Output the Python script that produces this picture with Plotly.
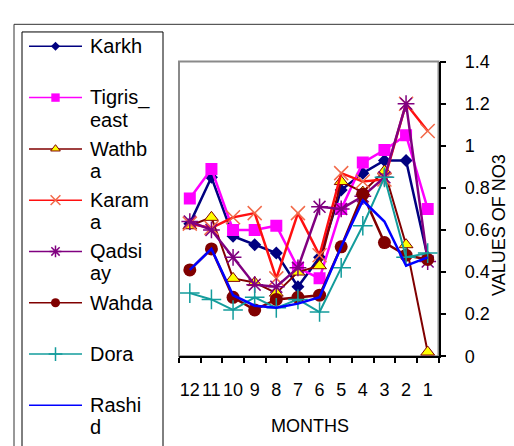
import plotly.graph_objects as go

# ---------------- data ----------------
months = ["12", "11", "10", "9", "8", "7", "6", "5", "4", "3", "2", "1"]
karkh = [0.63, 0.85, 0.57, 0.53, 0.49, 0.33, 0.47, 0.79, 0.87, 0.93, 0.93, 0.47]
tigris_east = [0.75, 0.89, 0.60, 0.60, 0.62, 0.42, 0.37, 0.70, 0.92, 0.98, 1.05, 0.70]
wathba = [0.62, 0.66, 0.37, 0.35, 0.30, 0.40, 0.43, 0.83, 0.78, 0.88, 0.53, 0.02]
karama = [0.63, 0.61, 0.66, 0.68, 0.37, 0.68, 0.48, 0.87, 0.83, 0.84, 1.20, 1.07]
qadsiay = [0.64, 0.60, 0.47, 0.34, 0.33, 0.42, 0.71, 0.70, 0.76, 0.85, 1.20, 0.45]
wahda = [0.41, 0.51, 0.28, 0.22, 0.27, 0.28, 0.29, 0.52, 0.77, 0.54, 0.48, 0.46]
dora = [0.30, 0.27, 0.22, 0.28, 0.23, 0.27, 0.21, 0.42, 0.62, 0.85, 0.47, 0.49]
rashid = [0.41, 0.51, 0.29, 0.24, 0.23, 0.25, 0.28, 0.52, 0.74, 0.64, 0.43, 0.47]

series_names = ["Karkh", "Tigris_east", "Wathba", "Karama", "Qadsiay", "Wahda", "Dora", "Rashid"]
series_values = [karkh, tigris_east, wathba, karama, qadsiay, wahda, dora, rashid]
legend_lines = [["Karkh"], ["Tigris_", "east"], ["Wathb", "a"], ["Karam", "a"],
                ["Qadsi", "ay"], ["Wahda"], ["Dora"], ["Rashi", "d"]]
y_title = "VALUES OF NO3"
x_title = "MONTHS"

# ---------------- styles ----------------
styles = [
    dict(line=dict(color="#000080", width=2.5),
         marker=dict(symbol="diamond", size=10, color="#000080")),
    dict(line=dict(color="#FF00FF", width=2.5),
         marker=dict(symbol="square", size=12, color="#FF00FF")),
    dict(line=dict(color="#800000", width=2),
         marker=dict(symbol="triangle-up", size=12, color="#FFFF00", line=dict(color="#800000", width=1))),
    dict(line=dict(color="#FF1010", width=2.5),
         marker=dict(symbol="x-thin-open", size=14, color="#F26A4A", line=dict(color="#F26A4A", width=1.5))),
    dict(line=dict(color="#800080", width=2.5),
         marker=dict(symbol="asterisk-open", size=14, color="#800080", line=dict(color="#800080", width=1.5))),
    dict(line=dict(color="#800000", width=2.5),
         marker=dict(symbol="circle", size=13, color="#800000")),
    dict(line=dict(color="#139C9C", width=2),
         marker=dict(symbol="cross-thin-open", size=14, color="#139C9C", line=dict(color="#139C9C", width=1.5))),
    dict(line=dict(color="#0000FF", width=2.5), marker=None),
]
legend_marker_scale = 0.7

W, H = 514, 446
FONT = "Liberation Sans, Arial, sans-serif"
# plot box in pixels
PL, PR, PT, PB = 179, 438.5, 54, 362.5
# legend geometry in pixels
ROW0, ROWSTEP, LINESTEP = 38, 53.7, 23


def px_x(p):
    return p / W


def px_y(p):
    return 1 - p / H


fig = go.Figure()

for name, vals, st in zip(series_names, series_values, styles):
    kw = dict(line=st["line"])
    if st["marker"] is not None:
        kw["marker"] = st["marker"]
        kw["mode"] = "lines+markers"
    else:
        kw["mode"] = "lines"
    fig.add_trace(go.Scatter(x=months, y=vals, name=name, showlegend=False,
                             xaxis="x", yaxis="y", **kw))

# legend glyphs drawn on an overlay axis (row index -> vertical position)
for i, st in enumerate(styles):
    lw = dict(color=st["line"]["color"], width=1.5)
    fig.add_trace(go.Scatter(x=[0, 1], y=[i, i], mode="lines", line=lw, showlegend=False,
                             hoverinfo="skip", xaxis="x2", yaxis="y2"))
    if st["marker"] is not None:
        m = dict(st["marker"])
        m["size"] = m["size"] * legend_marker_scale
        fig.add_trace(go.Scatter(x=[0.5], y=[i], mode="markers", marker=m, showlegend=False,
                                 hoverinfo="skip", xaxis="x2", yaxis="y2", cliponaxis=False))

annotations = []
for i, lines in enumerate(legend_lines):
    for j, txt in enumerate(lines):
        annotations.append(dict(text=txt, xref="paper", yref="y2", x=px_x(89), y=i + j * LINESTEP / ROWSTEP,
                                xanchor="left", yanchor="middle", showarrow=False, borderpad=0,
                                font=dict(family=FONT, size=20, color="black")))
annotations.append(dict(text=y_title, xref="paper", yref="paper", x=px_x(499), y=px_y(225),
                        textangle=-90, showarrow=False, xanchor="center", yanchor="middle",
                        font=dict(family=FONT, size=18, color="black")))
annotations.append(dict(text=x_title, xref="paper", yref="paper", x=px_x(310), y=px_y(436),
                        showarrow=False, xanchor="center", yanchor="middle",
                        font=dict(family=FONT, size=18, color="black")))

shapes = [
    # outer chart border
    dict(type="rect", xref="paper", yref="paper", x0=px_x(14), x1=1.05, y0=px_y(15), y1=-0.05,
         line=dict(color="#333333", width=1), layer="below"),
    # legend box
    dict(type="rect", xref="paper", yref="paper", x0=px_x(22), x1=px_x(163), y0=px_y(23), y1=-0.05,
         line=dict(color="black", width=1), layer="below"),
    # plot-area frame
    dict(type="rect", xref="x domain", yref="y domain", x0=0, x1=1, y0=0, y1=1,
         line=dict(color="#8A8A8A", width=2), layer="below"),
]

fig.update_layout(
    width=W, height=H,
    margin=dict(l=0, r=0, t=0, b=0),
    paper_bgcolor="white", plot_bgcolor="white",
    font=dict(family=FONT, size=18, color="black"),
    showlegend=False,
    xaxis=dict(domain=[px_x(PL), px_x(PR)], type="category", categoryorder="array",
               categoryarray=months, range=[-0.5, 11.5], tickson="boundaries",
               tickmode="array", tickvals=months, ticktext=months, tickangle=0,
               ticks="outside", ticklen=5, tickcolor="black", tickwidth=1.5,
               showline=True, linecolor="black", linewidth=1.5, showgrid=False,
               zeroline=False, ticklabelstandoff=16, anchor="y",
               tickfont=dict(family=FONT, size=18, color="black")),
    yaxis=dict(domain=[px_y(PB), px_y(PT)], side="right", range=[0, 1.4], dtick=0.2, tick0=0,
               ticks="outside", ticklen=6, tickcolor="black", tickwidth=1.5,
               showline=True, linecolor="black", linewidth=1.5, showgrid=False,
               zeroline=False, ticklabelstandoff=15, anchor="x",
               tickfont=dict(family=FONT, size=18, color="black")),
    xaxis2=dict(domain=[px_x(29), px_x(82)], range=[0, 1], visible=False, anchor="y2", fixedrange=True),
    yaxis2=dict(domain=[0, 1], range=[(H - ROW0) / ROWSTEP, -ROW0 / ROWSTEP], visible=False,
                anchor="x2", fixedrange=True),
    annotations=annotations,
    shapes=shapes,
)

fig.write_html("out.html")
